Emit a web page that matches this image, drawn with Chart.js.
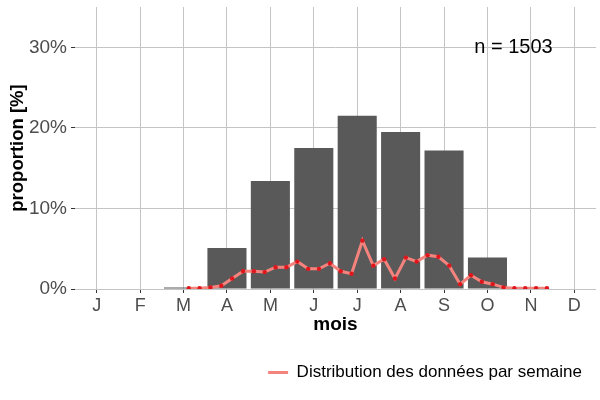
<!DOCTYPE html>
<html>
<head>
<meta charset="utf-8">
<script src="https://cdn.jsdelivr.net/npm/chart.js@4"></script>
<style>
  html, body { margin: 0; padding: 0; background: #fff; }
  #wrap { width: 600px; height: 400px; }
</style>
</head>
<body>
<div id="wrap"><canvas id="chart"></canvas></div>
<script>
// month bars
const monthLabels = ['J', 'F', 'M', 'A', 'M', 'J', 'J', 'A', 'S', 'O', 'N', 'D'];
const monthPos = [1, 2, 3, 4, 5, 6, 7, 8, 9, 10, 11, 12];
const monthShare = [0, 0, 0.2, 5.1, 13.4, 17.5, 21.5, 19.5, 17.2, 3.9, 0, 0];

// weekly distribution (position in month units)
const weekPos = [3.12, 3.37, 3.62, 3.87, 4.12, 4.37, 4.62, 4.87, 5.12, 5.37, 5.62, 5.87,
  6.12, 6.37, 6.62, 6.87, 7.12, 7.37, 7.62, 7.87, 8.12, 8.37, 8.62, 8.87, 9.12, 9.37,
  9.62, 9.87, 10.12, 10.37, 10.62, 10.87, 11.12, 11.37];
const weekShare = [0.1, 0.1, 0.2, 0.4, 1.3, 2.2, 2.2, 2.1, 2.7, 2.7, 3.4, 2.5,
  2.5, 3.2, 2.2, 1.9, 6.0, 2.9, 3.7, 1.3, 3.9, 3.4, 4.2, 4.0, 2.9, 0.6,
  1.7, 0.9, 0.6, 0.2, 0.1, 0.1, 0.1, 0.1];

const yTicks = [0, 10, 20, 30];
const noteText = 'n = 1503';
const noteAt = [10.6, 30];

const FONT = '"Liberation Sans", Arial, sans-serif';
const GRID = '#c4c4c4';
const LINE = '#F4837D';

// draws the "n = ..." text at data coordinates
const notePlugin = {
  id: 'note',
  afterDatasetsDraw(chart) {
    const {ctx, scales} = chart;
    ctx.save();
    ctx.font = '20px ' + FONT;
    ctx.fillStyle = '#000';
    ctx.textAlign = 'center';
    ctx.textBaseline = 'middle';
    ctx.fillText(noteText, scales.x.getPixelForValue(noteAt[0]), scales.y.getPixelForValue(noteAt[1]));
    ctx.restore();
  }
};

new Chart(document.getElementById('chart'), {
  data: {
    datasets: [{
      type: 'line',
      label: 'Distribution des données par semaine',
      data: weekPos.map((x, i) => ({x: x, y: weekShare[i]})),
      borderColor: LINE,
      borderWidth: 3,
      pointRadius: 2.2,
      pointBackgroundColor: '#E0161C',
      pointBorderWidth: 0,
      tension: 0,
      order: 1
    }, {
      type: 'bar',
      label: 'mois',
      data: monthPos.map((x, i) => ({x: x, y: monthShare[i]})),
      backgroundColor: '#595959',
      barPercentage: 0.9,
      categoryPercentage: 1,
      order: 2
    }]
  },
  options: {
    responsive: true,
    maintainAspectRatio: false,
    animation: false,
    layout: { padding: { top: 7, right: 4, left: 0, bottom: 9 } },
    plugins: {
      tooltip: { enabled: false },
      legend: {
        position: 'bottom',
        align: 'end',
        labels: {
          usePointStyle: true,
          pointStyleWidth: 20,
          color: '#000',
          font: { family: FONT, size: 17 },
          padding: 14,
          generateLabels: chart => [{
            text: chart.data.datasets[0].label,
            fillStyle: LINE,
            strokeStyle: LINE,
            lineWidth: 3,
            pointStyle: 'line',
            fontColor: '#000',
            datasetIndex: 0
          }]
        }
      }
    },
    scales: {
      x: {
        type: 'linear',
        offset: false,
        min: 0.5,
        max: 12.5,
        afterBuildTicks: s => { s.ticks = monthPos.map(v => ({value: v})); },
        afterFit: s => { s.height = 61; },
        ticks: {
          callback: (v) => monthLabels[monthPos.indexOf(v)],
          color: '#4d4d4d',
          font: { family: FONT, size: 18 },
          padding: 2,
          maxRotation: 0,
          autoSkip: false
        },
        grid: { color: GRID, tickColor: '#333', tickLength: 4, offset: false },
        border: { display: false },
        title: {
          display: true,
          text: 'mois',
          color: '#000',
          font: { family: FONT, size: 19, weight: 'bold' },
          padding: { top: 2, bottom: 14 }
        }
      },
      y: {
        min: 0,
        max: 35,
        afterBuildTicks: s => { s.ticks = yTicks.map(v => ({value: v})); },
        afterFit: s => { s.width = 75; s.paddingTop = 0; },
        ticks: {
          callback: v => v + '%',
          color: '#4d4d4d',
          font: { family: FONT, size: 19 },
          padding: 4
        },
        grid: { color: GRID, tickColor: '#333', tickLength: 4 },
        border: { display: false },
        title: {
          display: true,
          text: 'proportion [%]',
          color: '#000',
          font: { family: FONT, size: 18.5, weight: 'bold' },
          padding: { top: 7, bottom: 0 }
        }
      }
    }
  },
  plugins: [notePlugin]
});
</script>
</body>
</html>
